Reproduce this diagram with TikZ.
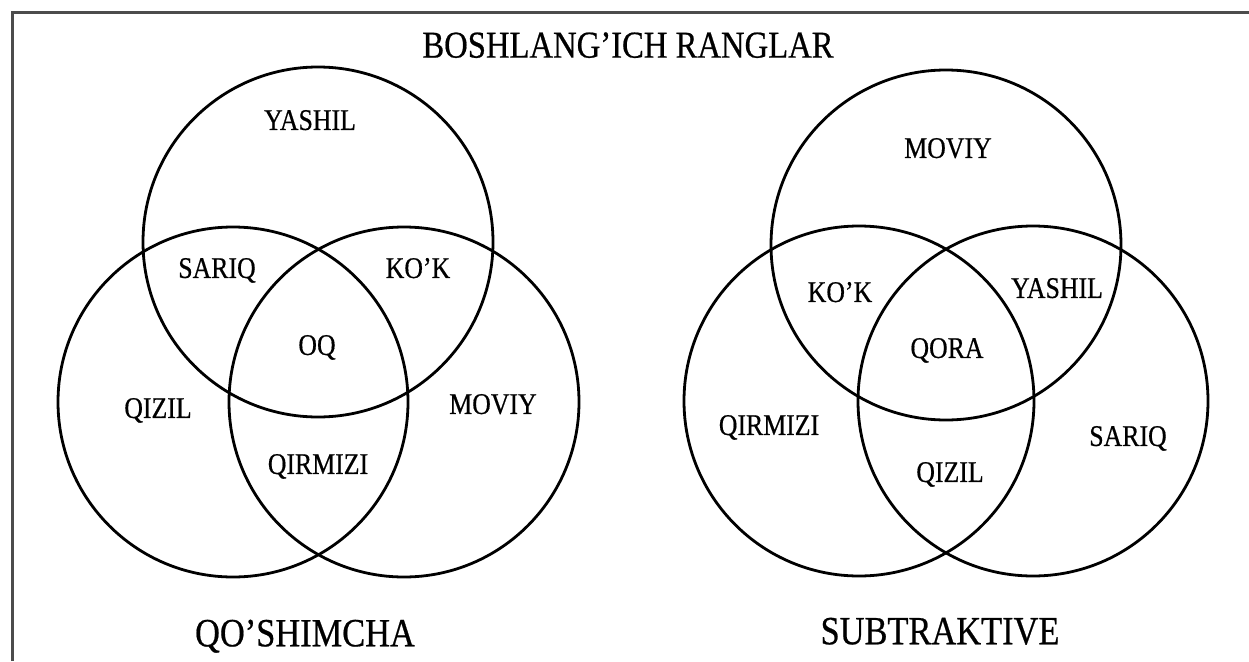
\documentclass[tikz,border=0pt]{standalone}
\usepackage{graphicx}
\usepackage{fontspec}
\setmainfont{Liberation Serif}
\newfontfamily\labelfont{Liberation Serif}[Ligatures=TeX, FakeBold=0.6]

\newcommand{\narrow}[1]{\scalebox{0.86}[1]{#1}}

\tikzset{
  ring/.style={circle, draw, line width=2.8pt, minimum size=350pt, inner sep=0pt},
  region/.style={font=\labelfont\fontsize{30}{30}\selectfont, inner sep=0pt, text depth=0pt},
  heading/.style={font=\labelfont\fontsize{38}{38}\selectfont, inner sep=0pt, text depth=0pt}
}

\begin{document}
\begin{tikzpicture}[x=1pt, y=-1pt]
    \useasboundingbox (0,0) rectangle (1249,661);

    % Frame
    \coordinate (frameB) at (12,661);
    \coordinate (frameC) at (12,13);
    \coordinate (frameR) at (1249,13);
    \draw[line width=3pt, black!70] (frameB) -- (frameC) -- (frameR);

    % Headers
    \node[heading] (title) at (628,45) {\narrow{BOSHLANG'ICH RANGLAR}};
    \node[heading, font=\labelfont\fontsize{40}{40}\selectfont] (additive) at (305,633) {\narrow{QO'SHIMCHA}};
    \node[heading, font=\labelfont\fontsize{40}{40}\selectfont] (subtractive) at (940,631) {\narrow{SUBTRAKTIVE}};

    % Additive circles
    \node[ring] (addG) at (318,242) {};
    \node[ring] (addR) at (233,402) {};
    \node[ring] (addB) at (404,402) {};

    \node[region] (lblYashil) at (310,120) {\narrow{YASHIL}};
    \node[region] (lblSariq) at (217,268) {\narrow{SARIQ}};
    \node[region] (lblKok) at (418,268) {\narrow{KO'K}};
    \node[region] (lblOq) at (317,345) {\narrow{OQ}};
    \node[region] (lblQizil) at (158,408) {\narrow{QIZIL}};
    \node[region] (lblMoviy) at (493,404) {\narrow{MOVIY}};
    \node[region] (lblQirmizi) at (318,464) {\narrow{QIRMIZI}};

    % Subtractive circles
    \node[ring] (subB) at (946,245) {};
    \node[ring] (subM) at (859,401) {};
    \node[ring] (subY) at (1033,401) {};

    \node[region] (lblMoviyS) at (948,148) {\narrow{MOVIY}};
    \node[region] (lblKokS) at (840,292) {\narrow{KO'K}};
    \node[region] (lblYashilS) at (1057,288) {\narrow{YASHIL}};
    \node[region] (lblQora) at (947,348) {\narrow{QORA}};
    \node[region] (lblQirmiziS) at (769,425) {\narrow{QIRMIZI}};
    \node[region] (lblQizilS) at (950,472) {\narrow{QIZIL}};
    \node[region] (lblSariqS) at (1128,436) {\narrow{SARIQ}};
\end{tikzpicture}
\end{document}
